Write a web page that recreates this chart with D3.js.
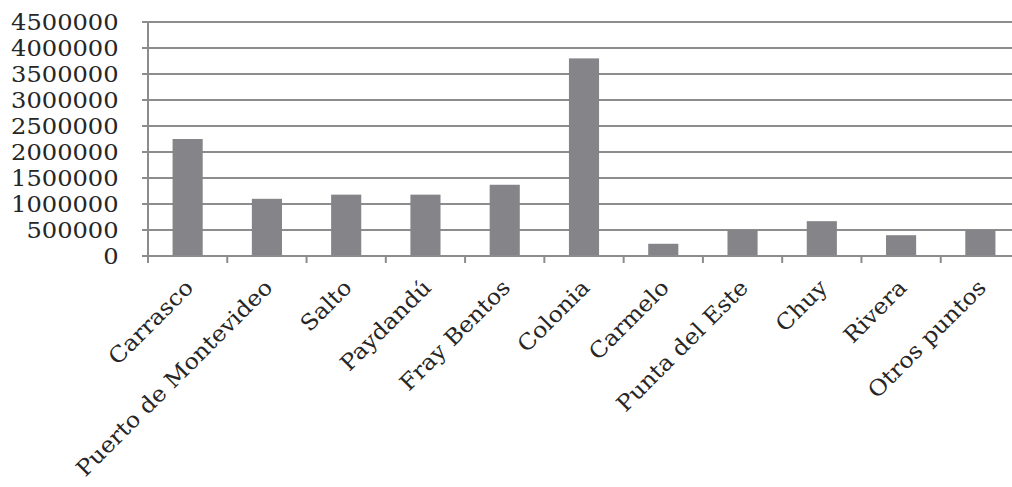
<!DOCTYPE html>
<html>
<head>
<meta charset="utf-8">
<script src="https://cdn.jsdelivr.net/npm/d3@7"></script>
<style>
  html, body { margin: 0; padding: 0; background: #fff; }
  svg { display: block; }
  text { font-family: "DejaVu Serif", "Liberation Serif", serif; fill: #262626; }
</style>
</head>
<body>
<svg id="chart" width="1012" height="487"></svg>
<script>
// Puntos de entrada y cantidad de visitantes
const categories = ["Carrasco", "Puerto de Montevideo", "Salto", "Paydandú", "Fray Bentos",
  "Colonia", "Carmelo", "Punta del Este", "Chuy", "Rivera", "Otros puntos"];
const values = [2250000, 1100000, 1180000, 1180000, 1370000,
  3800000, 235000, 500000, 670000, 400000, 500000];
const yTicks = [0, 500000, 1000000, 1500000, 2000000, 2500000, 3000000, 3500000, 4000000, 4500000];

const svg = d3.select("#chart");
const mLeft = 148, mRight = 1020, mTop = 22, mBottom = 256;

const x = d3.scaleBand().domain(categories).range([mLeft, mRight])
  .paddingInner(0.62).paddingOuter(0.31);
const y = d3.scaleLinear().domain([0, 4500000]).range([mBottom, mTop]);

const gridColor = "#8c8c8c";

// horizontal gridlines (extend left of the axis as tick marks)
svg.append("g").selectAll("line").data(yTicks).join("line")
  .attr("x1", mLeft - 6).attr("x2", mRight)
  .attr("y1", d => y(d)).attr("y2", d => y(d))
  .attr("stroke", gridColor).attr("stroke-width", 2);

// bars
svg.append("g").selectAll("rect").data(categories).join("rect")
  .attr("x", d => x(d))
  .attr("width", x.bandwidth())
  .attr("y", (d, i) => y(values[i]))
  .attr("height", (d, i) => y(0) - y(values[i]))
  .attr("fill", "#858589");

// y axis, slightly widened lettering
const yStretch = 1.05;
const yAxis = d3.axisLeft(y).tickValues(yTicks).tickSize(0).tickPadding(28)
  .tickFormat(d3.format("d"));
const gy = svg.append("g").attr("transform", `translate(${mLeft},0)`).call(yAxis);
gy.select(".domain").remove();
gy.selectAll("text")
  .attr("font-size", 23)
  .attr("font-family", "DejaVu Serif, serif")
  .attr("fill", "#262626");
gy.selectAll(".tick").each(function() {
  const t = d3.select(this);
  t.attr("transform", `${t.attr("transform")} scale(${yStretch},1)`);
});

// vertical axis line
svg.append("line").attr("x1", mLeft).attr("x2", mLeft).attr("y1", mTop).attr("y2", mBottom + 7)
  .attr("stroke", gridColor).attr("stroke-width", 2);

// x axis: ticks on category boundaries
const bounds = d3.range(categories.length + 1).map(i => mLeft + i * x.step());
svg.append("g").selectAll("line").data(bounds).join("line")
  .attr("x1", d => d).attr("x2", d => d).attr("y1", mBottom).attr("y2", mBottom + 7)
  .attr("stroke", gridColor).attr("stroke-width", 2);
svg.append("line").attr("x1", mLeft).attr("x2", mRight).attr("y1", mBottom).attr("y2", mBottom)
  .attr("stroke", gridColor).attr("stroke-width", 2);

// rotated category labels, widened along the baseline
svg.append("g").selectAll("text").data(categories).join("text")
  .attr("transform", d =>
    `translate(${x(d) + x.bandwidth() / 2 + 7},${mBottom + 33}) rotate(-45) scale(1.08,1)`)
  .attr("text-anchor", "end")
  .attr("font-size", 22)
  .attr("font-family", "DejaVu Serif, serif")
  .text(d => d);
</script>
</body>
</html>
